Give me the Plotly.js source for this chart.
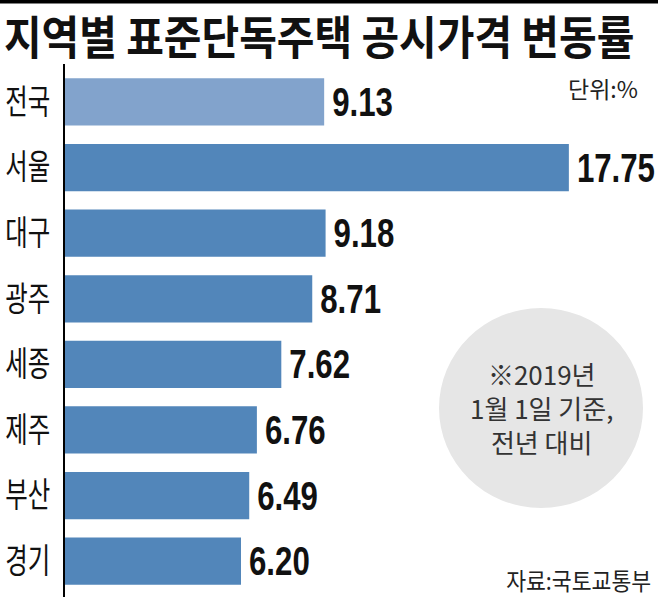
<!DOCTYPE html>
<html><head><meta charset="utf-8">
<script src="https://cdn.plot.ly/plotly-3.0.1.min.js"></script>
<style>html,body{margin:0;padding:0;background:#fff;}#chart{width:658px;height:599px;}</style>
</head><body><div id="chart"></div>
<script>
const regions = ['전국','서울','대구','광주','세종','제주','부산','경기'];
const changes = [9.13, 17.75, 9.18, 8.71, 7.62, 6.76, 6.49, 6.20];
const barColors = ['#82a3cc','#5286ba','#5286ba','#5286ba','#5286ba','#5286ba','#5286ba','#5286ba'];
const titleText = '지역별 표준단독주택 공시가격 변동률';
const unitText = '단위:%';
const noteText = '※2019년<br>1월 1일 기준,<br>전년 대비';
const sourceText = '자료:국토교통부';

const KR = '"Noto Sans CJK KR", "Noto Sans", sans-serif';
const trace = {
  type: 'bar', orientation: 'h',
  x: changes, y: regions,
  marker: {color: barColors, line: {width: 0}},
  width: 0.72,
  text: changes.map(v => v.toFixed(2)),
  textposition: 'outside',
  constraintext: 'none',
  textfont: {family: '"Liberation Sans", Arial, sans-serif', size: 40, color: '#111', weight: 'bold'},
  cliponaxis: false,
  hoverinfo: 'none'
};
const layout = {
  width: 658, height: 599,
  margin: {l: 65, r: 0, t: 64, b: 2},
  paper_bgcolor: '#fff', plot_bgcolor: 'rgba(0,0,0,0)',
  showlegend: false,
  title: {text: '<b>' + titleText + '</b>', x: 0.006, xanchor: 'left', xref: 'container',
          y: 0.937, yanchor: 'middle', yref: 'container',
          font: {family: KR, size: 46, color: '#111'}},
  xaxis: {range: [0, 20.89], visible: false, fixedrange: true},
  yaxis: {type: 'category', range: [7.546, -0.579], showline: true, linecolor: '#000', linewidth: 2,
          showgrid: false, zeroline: false, ticks: '', ticklabelstandoff: 6,
          tickfont: {family: KR, size: 34, color: '#111'}},
  shapes: [
    {type: 'line', xref: 'paper', yref: 'paper', x0: -0.12, x1: 1.01, y0: 1.1182, y1: 1.1182,
     line: {color: '#000', width: 5}},
    {type: 'circle', xref: 'paper', yref: 'paper', xsizemode: 'pixel', ysizemode: 'pixel',
     xanchor: 0.8027, yanchor: 0.3546, x0: -102, x1: 102, y0: -100, y1: 100,
     fillcolor: '#e6e6e6', line: {width: 0}, layer: 'below'}
  ],
  annotations: [
    {text: unitText, xref: 'paper', yref: 'paper', x: 0.9696, y: 0.955, xanchor: 'right', yanchor: 'middle',
     showarrow: false, font: {family: KR, size: 23, color: '#222'}},
    {text: noteText, xref: 'paper', yref: 'paper', x: 0.8027, y: 0.3546, xanchor: 'center', yanchor: 'middle',
     showarrow: false, align: 'center', font: {family: KR, size: 26, color: '#333'}},
    {text: sourceText, xref: 'paper', yref: 'paper', x: 0.9916, y: 0.032, xanchor: 'right', yanchor: 'middle',
     showarrow: false, font: {family: KR, size: 24, color: '#222'}}
  ]
};

function condense(el, f, anchor, dx) {
  const b = el.getBBox();
  const ax = anchor === 'left' ? b.x : anchor === 'right' ? b.x + b.width : b.x + b.width / 2;
  const t = el.getAttribute('transform') || '';
  el.setAttribute('transform', t + ' translate(' + (ax + (dx || 0)) + ',0) scale(' + f + ',1) translate(' + (-ax) + ',0)');
}

Plotly.newPlot('chart', [trace], layout, {staticPlot: true, displayModeBar: false}).then(() => {
  document.querySelectorAll('#chart text.bartext').forEach(el => condense(el, 0.78, 'left', 5));
  document.querySelectorAll('#chart g.ytick text').forEach(el => condense(el, 0.72, 'right'));
  document.querySelectorAll('#chart text.gtitle').forEach(el => condense(el, 0.89, 'left'));
  const ann = document.querySelectorAll('#chart g.annotation text.annotation-text');
  if (ann[2]) condense(ann[2], 0.9, 'right');
});
</script></body></html>
